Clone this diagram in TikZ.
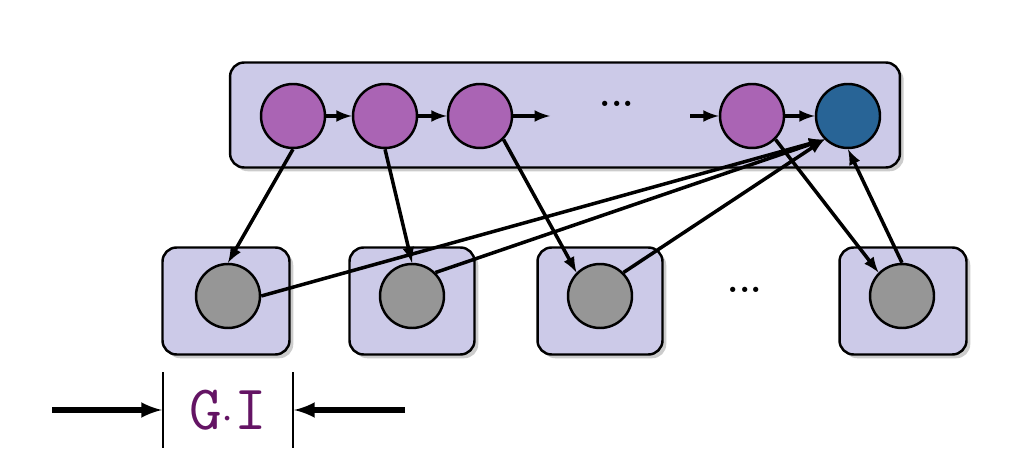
\documentclass[tikz,border=0pt]{standalone}
\usetikzlibrary{shadows}
\definecolor{boxfill}{RGB}{204,202,232}
\definecolor{purp}{RGB}{170,100,180}
\definecolor{bluec}{RGB}{40,100,150}
\definecolor{greyc}{RGB}{150,150,150}
\definecolor{labc}{RGB}{100,20,100}
\tikzset{
  box/.style={draw=black,line width=1.4pt,fill=boxfill,rounded corners=8pt,drop shadow={opacity=0.4}},
  pnode/.style={circle,draw=black,line width=1.4pt,minimum size=1.28cm,inner sep=0pt,fill=purp},
  bnode/.style={pnode,fill=bluec},
  gnode/.style={pnode,fill=greyc},
  arr/.style={->,>={latex[scale=1.1]},line width=2pt},
  dots/.style={font=\huge\bfseries},
}
\begin{document}
\begin{tikzpicture}[x=0.02cm,y=-0.02cm]
			\useasboundingbox (0,0) rectangle (1030,462);
			% Boxes
			\node[box,minimum width=13.4cm,minimum height=2.1cm] (top) at (565,115) {};
			\node[box,minimum width=2.54cm,minimum height=2.14cm] (b1) at (226,301) {};
			\node[box,minimum width=2.5cm,minimum height=2.14cm] (b2) at (412,301) {};
			\node[box,minimum width=2.5cm,minimum height=2.14cm] (b3) at (600,301) {};
			\node[box,minimum width=2.54cm,minimum height=2.14cm] (b4) at (903,301) {};

			% Upper nodes
			\node[pnode] (p1) at (293,116) {};
			\node[pnode] (p2) at (385,116) {};
			\node[pnode] (p3) at (480,116) {};
			\node[pnode] (p4) at (752,116) {};
			\node[bnode] (p5) at (848,116) {};
			\node[dots] at (617,104) {...};
			\coordinate (c3) at (550,116);
			\coordinate (c4) at (690,116);

			% Lower nodes
			\node[gnode] (g1) at (228,296) {};
			\node[gnode] (g2) at (412,296) {};
			\node[gnode] (g3) at (600,296) {};
			\node[gnode] (g4) at (902,296) {};
			\node[dots] at (745,290) {...};

			% Chain
			\draw[arr] (p1) -- (p2);
			\draw[arr] (p2) -- (p3);
			\draw[arr] (p3) -- (c3);
			\draw[arr] (c4) -- (p4);
			\draw[arr] (p4) -- (p5);

			% Lines going down
			\draw[arr] (p1.south) -- (g1.north);
			\draw[arr] (p2.south) -- (g2.north);
			\draw[arr] (p3.south east) -- (g3.north west);
			\draw[arr] (p4.south east) -- (g4.north west);

			% Lines going up
			\draw[arr] (g1.east) -- (p5.south west);
			\draw[arr] (g2.north east) -- (p5.south west);
			\draw[arr] (g3.north east) -- (p5.south west);
			\draw[arr] (g4.north) -- (p5.south);

			% Width label
			\coordinate (l1) at (163,372);
			\coordinate (l2) at (163,448);
			\coordinate (r1) at (293,372);
			\coordinate (r2) at (293,448);
			\draw[line width=1pt] (l1) -- (l2);
			\draw[line width=1pt] (r1) -- (r2);
			\coordinate (la) at (52,410);
			\coordinate (lb) at (162,410);
			\coordinate (ra) at (405,410);
			\coordinate (rb) at (294,410);
			\draw[arr,line width=3pt] (la) -- (lb);
			\draw[arr,line width=3pt] (ra) -- (rb);
			\node[text=labc,font=\ttfamily\fontsize{36}{36}\selectfont] (gi) at (228,410) {G$\cdot$I};
		\end{tikzpicture}
\end{document}
